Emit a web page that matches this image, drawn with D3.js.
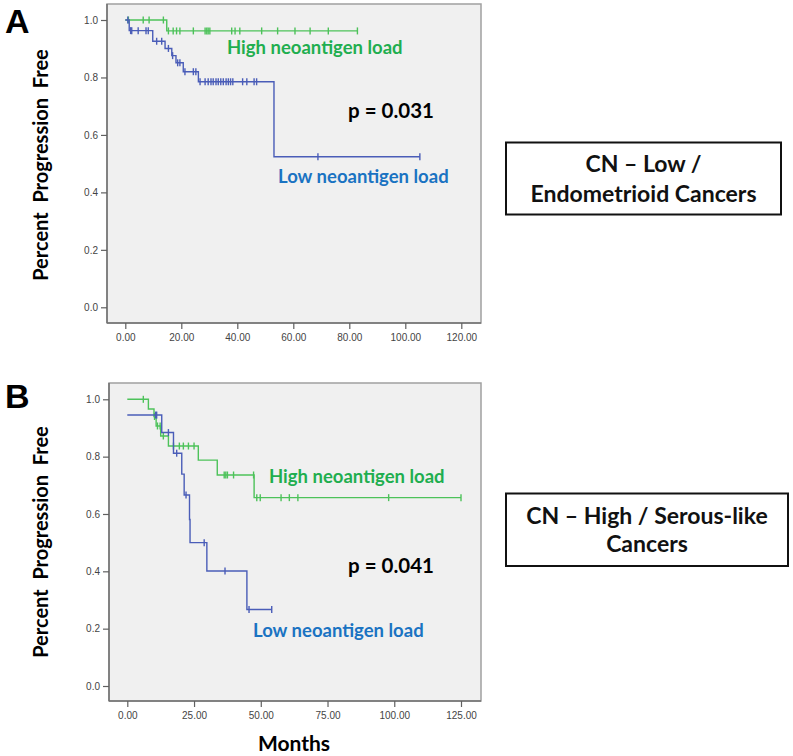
<!DOCTYPE html>
<html><head><meta charset="utf-8">
<script src="https://cdn.jsdelivr.net/npm/d3@7"></script>
<style>body{margin:0;background:#fff} svg{display:block}</style>
</head><body>
<svg id="c" width="793" height="756"></svg>
<script>
// ---------- DATA ----------
const yTicks = [0, 0.2, 0.4, 0.6, 0.8, 1.0];
const aXTicks = [0, 20, 40, 60, 80, 100, 120];
const bXTicks = [0, 25, 50, 75, 100, 125];

// Panel A: CN-Low / Endometrioid
const aHighTimes = [0, 14.8];
const aHighSurv = [1.0, 0.962];
const aHighEnd = 82.9;
const aHighCensor = [1.1, 6.4, 8.5, 13.6, 15.4, 17.1, 18.3, 19.5, 24.3, 28.5, 29.1, 29.6, 30.2, 38.0, 39.2, 40.9, 48.7, 54.4, 60.6, 66.0, 72.5, 82.9];

const aLowTimes = [0, 1.4, 9.8, 14.2, 16.6, 18.1, 20.7, 26.1, 53.1];
const aLowSurv = [1.0, 0.963, 0.926, 0.901, 0.876, 0.851, 0.82, 0.785, 0.524];
const aLowEnd = 105.2;
const aLowCensor = [0.9, 1.9, 2.3, 4.6, 7.4, 8.2, 11.2, 13.0, 15.4, 16.9, 18.7, 19.5, 21.3, 24.3, 25.2, 26.7, 28.5, 29.6, 30.6, 31.4, 32.4, 33.2, 34.1, 35.0, 36.0, 36.8, 37.6, 38.4, 41.9, 43.4, 46.0, 46.9, 68.8, 105.2];

// Panel B: CN-High / Serous-like
const bHighTimes = [0, 7.9, 10.0, 10.8, 12.5, 15.4, 26.6, 33.7, 47.5];
const bHighSurv = [1.0, 0.966, 0.94, 0.907, 0.872, 0.837, 0.788, 0.736, 0.657];
const bHighEnd = 125;
const bHighCensor = [6.0, 10.2, 11.3, 12.3, 13.5, 17.3, 19.5, 21.0, 22.9, 25.0, 36.3, 36.9, 37.5, 39.8, 47.3, 48.5, 49.8, 57.6, 60.7, 63.9, 97.9, 125];

const bLowTimes = [0, 12.9, 17.3, 20.4, 21.3, 23.3, 23.5, 29.8, 44.8];
const bLowSurv = [0.945, 0.884, 0.812, 0.739, 0.666, 0.581, 0.5, 0.401, 0.267];
const bLowEnd = 54.1;
const bLowCensor = [10.6, 11.0, 15.4, 18.5, 22.0, 28.8, 36.6, 45.6, 54.1];

const seriesNames = ["High neoantigen load", "Low neoantigen load"];
const pValues = ["p = 0.031", "p = 0.041"];
const panelLetters = ["A", "B"];
const boxTexts = [["CN \u2013 Low /", "Endometrioid Cancers"], ["CN \u2013 High / Serous-like", "Cancers"]];
const yTitle = "Percent  Progression  Free";
const xTitle = "Months";

// ---------- STYLE ----------
const greenLine = "#4dc25a", blueLine = "#4a5db8";
const greenText = "#1fae4f", blueText = "#1a73c2";
const calibri = "Lato, 'Open Sans', sans-serif";
const tickFont = "'Liberation Sans', Arial, sans-serif";

const svg = d3.select("#c");

const panels = [
  {
    frame: {x0: 107, x1: 481, y0: 4, y1: 323},
    x: d3.scaleLinear().domain([0, 120]).range([125.3, 461.3]),
    y: d3.scaleLinear().domain([0, 1]).range([307.3, 20]),
    xTicks: aXTicks,
    series: [
      {times: aHighTimes, surv: aHighSurv, end: aHighEnd, censor: aHighCensor, color: greenLine},
      {times: aLowTimes, surv: aLowSurv, end: aLowEnd, censor: aLowCensor, color: blueLine}
    ],
    highLbl: [227, 54], lowLbl: [278, 183], pLbl: [348, 118],
    letterY: 33, titleY: 165,
    box: {x: 506, y: 142.5, w: 275, h: 72, cx: 643.5, l1: 172, l2: 202}
  },
  {
    frame: {x0: 109, x1: 481, y0: 383, y1: 701},
    x: d3.scaleLinear().domain([0, 125]).range([127.3, 461]),
    y: d3.scaleLinear().domain([0, 1]).range([686, 399.3]),
    xTicks: bXTicks,
    series: [
      {times: bHighTimes, surv: bHighSurv, end: bHighEnd, censor: bHighCensor, color: greenLine},
      {times: bLowTimes, surv: bLowSurv, end: bLowEnd, censor: bLowCensor, color: blueLine}
    ],
    highLbl: [269, 483], lowLbl: [253, 637], pLbl: [348, 573],
    letterY: 408, titleY: 542,
    box: {x: 506, y: 493.5, w: 282, h: 72.5, cx: 647, l1: 523.5, l2: 552}
  }
];

panels.forEach((p, pi) => {
  const g = svg.append("g");
  const f = p.frame;
  // plot background
  g.append("rect").attr("x", f.x0).attr("y", f.y0).attr("width", f.x1 - f.x0).attr("height", f.y1 - f.y0)
    .attr("fill", "#f0f0f0").attr("stroke", "#a0a0a0").attr("stroke-width", 1.5);
  g.append("line").attr("x1", f.x0).attr("x2", f.x0).attr("y1", f.y0).attr("y2", f.y1)
    .attr("stroke", "#707070").attr("stroke-width", 1.5);
  g.append("line").attr("x1", f.x0).attr("x2", f.x1).attr("y1", f.y1).attr("y2", f.y1)
    .attr("stroke", "#707070").attr("stroke-width", 1.5);

  // axes
  const ya = g.append("g").attr("transform", `translate(${f.x0},0)`)
    .call(d3.axisLeft(p.y).tickValues(yTicks).tickFormat(d3.format(".1f")).tickSize(6).tickPadding(3));
  const xa = g.append("g").attr("transform", `translate(0,${f.y1})`)
    .call(d3.axisBottom(p.x).tickValues(p.xTicks).tickFormat(d3.format(".2f")).tickSize(6).tickPadding(5));
  [ya, xa].forEach(a => {
    a.select(".domain").remove();
    a.selectAll(".tick line").attr("stroke", "#606060").attr("stroke-width", 1.2);
    a.selectAll(".tick text").attr("fill", "#444").style("font-family", tickFont).style("font-size", "10px");
  });

  // KM curves
  p.series.forEach(s => {
    const pts = s.times.map((t, i) => [t, s.surv[i]]);
    pts.push([s.end, s.surv[s.surv.length - 1]]);
    const line = d3.line().x(d => p.x(d[0])).y(d => p.y(d[1])).curve(d3.curveStepAfter);
    g.append("path").attr("d", line(pts)).attr("fill", "none").attr("stroke", s.color).attr("stroke-width", 1.4);
    const survAt = t => s.surv[Math.max(0, d3.bisectRight(s.times, t) - 1)];
    g.selectAll(null).data(s.censor).join("line")
      .attr("x1", d => p.x(d)).attr("x2", d => p.x(d))
      .attr("y1", d => p.y(survAt(d)) - 3.5).attr("y2", d => p.y(survAt(d)) + 3.5)
      .attr("stroke", s.color).attr("stroke-width", 1.4);
  });

  // labels
  g.append("text").attr("x", p.highLbl[0]).attr("y", p.highLbl[1]).text(seriesNames[0])
    .attr("fill", greenText).style("font-family", calibri).style("font-weight", 700).style("font-size", "18.5px");
  g.append("text").attr("x", p.lowLbl[0]).attr("y", p.lowLbl[1]).text(seriesNames[1])
    .attr("fill", blueText).style("font-family", calibri).style("font-weight", 700).style("font-size", "18.5px");
  g.append("text").attr("x", p.pLbl[0]).attr("y", p.pLbl[1]).text(pValues[pi])
    .attr("fill", "#000").style("font-family", calibri).style("font-weight", 700).style("font-size", "20.5px");

  // panel letter
  g.append("text").attr("x", 5).attr("y", p.letterY).text(panelLetters[pi])
    .attr("fill", "#000").style("font-family", "'Liberation Sans', Arial, sans-serif").style("font-weight", 700).style("font-size", "34px");

  // y title
  g.append("text").attr("transform", `translate(48,${p.titleY}) rotate(-90)`).attr("text-anchor", "middle")
    .text(yTitle).attr("fill", "#000").style("font-family", calibri).style("font-weight", 700).style("font-size", "20px")
    .style("white-space", "pre");

  // box
  const b = p.box;
  g.append("rect").attr("x", b.x).attr("y", b.y).attr("width", b.w).attr("height", b.h)
    .attr("fill", "#fff").attr("stroke", "#111").attr("stroke-width", 2);
  g.append("text").attr("x", b.cx).attr("y", b.l1).attr("text-anchor", "middle").text(boxTexts[pi][0])
    .attr("fill", "#111").style("font-family", calibri).style("font-weight", 700).style("font-size", "23px");
  g.append("text").attr("x", b.cx).attr("y", b.l2).attr("text-anchor", "middle").text(boxTexts[pi][1])
    .attr("fill", "#111").style("font-family", calibri).style("font-weight", 700).style("font-size", "23px");
});

svg.append("text").attr("x", 294).attr("y", 751).attr("text-anchor", "middle").text(xTitle)
  .attr("fill", "#000").style("font-family", calibri).style("font-weight", 700).style("font-size", "21px");
</script>
</body></html>
